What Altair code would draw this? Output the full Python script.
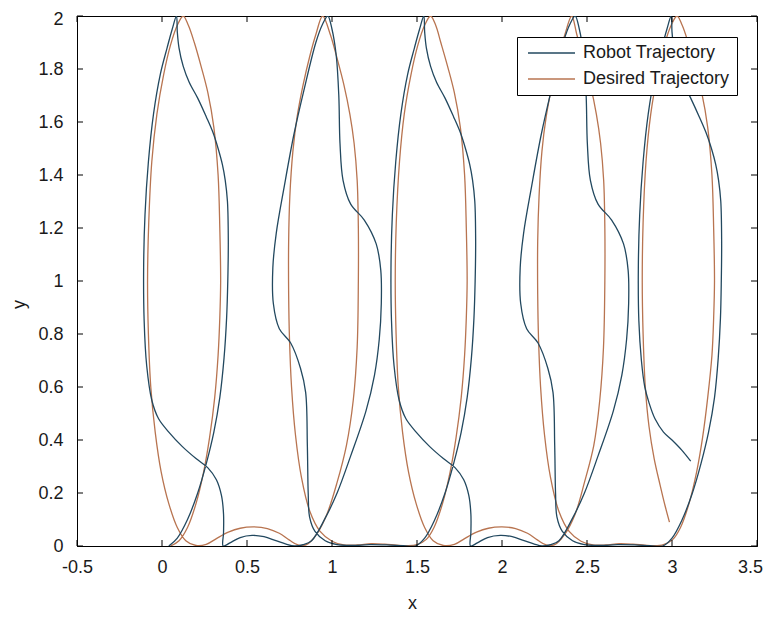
import altair as alt
import pandas as pd

# ---------------- data (x, y) ----------------
desired_loop1 = [(0.05, 0.0), (0.10, 0.02), (0.15, 0.07), (0.20, 0.16), (0.245, 0.28), (0.28, 0.41),
                 (0.31, 0.56), (0.33, 0.72), (0.34, 0.86), (0.345, 1.0), (0.34, 1.2), (0.33, 1.4),
                 (0.305, 1.58), (0.27, 1.71), (0.23, 1.81), (0.19, 1.9), (0.155, 1.965), (0.125, 2.0),
                 (0.09, 1.965), (0.05, 1.89), (0.01, 1.78), (-0.03, 1.63), (-0.06, 1.45), (-0.078, 1.22),
                 (-0.085, 1.0), (-0.08, 0.8), (-0.066, 0.6), (-0.04, 0.43), (-0.005, 0.28), (0.04, 0.16),
                 (0.09, 0.07), (0.14, 0.02), (0.20, 0.002)]
desired_bump1 = [(0.26, 0.006), (0.32, 0.028), (0.39, 0.052), (0.46, 0.067), (0.54, 0.072),
                 (0.62, 0.066), (0.69, 0.048), (0.75, 0.022), (0.80, 0.004)]
desired_loop2 = [(0.85, 0.005), (0.91, 0.045), (0.97, 0.12), (1.03, 0.24), (1.085, 0.38), (1.125, 0.55),
                 (1.148, 0.75), (1.155, 1.0), (1.155, 1.2), (1.148, 1.38), (1.13, 1.52), (1.105, 1.63),
                 (1.07, 1.74), (1.03, 1.84), (0.99, 1.93), (0.945, 2.0), (0.905, 1.93), (0.87, 1.85),
                 (0.83, 1.74), (0.795, 1.62), (0.77, 1.49), (0.752, 1.32), (0.745, 1.15), (0.745, 0.95),
                 (0.75, 0.78), (0.762, 0.6), (0.785, 0.42), (0.82, 0.26), (0.87, 0.13), (0.93, 0.055),
                 (1.0, 0.018), (1.07, 0.004)]
desired_flat1 = [(1.15, 0.004), (1.23, 0.009), (1.31, 0.007), (1.38, 0.003), (1.44, 0.001)]
desired_loop3 = [(1.50, 0.005), (1.555, 0.025), (1.60, 0.07), (1.65, 0.16), (1.695, 0.28), (1.73, 0.41),
                 (1.76, 0.56), (1.78, 0.72), (1.79, 0.86), (1.795, 1.0), (1.79, 1.2), (1.78, 1.4),
                 (1.755, 1.58), (1.72, 1.71), (1.68, 1.81), (1.64, 1.9), (1.61, 1.965), (1.58, 2.0),
                 (1.545, 1.965), (1.505, 1.89), (1.465, 1.78), (1.425, 1.63), (1.397, 1.45), (1.378, 1.22),
                 (1.372, 1.0), (1.377, 0.8), (1.39, 0.6), (1.415, 0.43), (1.45, 0.28), (1.495, 0.16),
                 (1.545, 0.07), (1.595, 0.02), (1.655, 0.002)]
desired_bump2 = [(1.72, 0.006), (1.78, 0.028), (1.85, 0.052), (1.92, 0.067), (2.0, 0.072),
                 (2.08, 0.066), (2.15, 0.048), (2.21, 0.022), (2.26, 0.004)]
desired_loop4 = [(2.31, 0.005), (2.37, 0.045), (2.43, 0.12), (2.485, 0.24), (2.54, 0.38), (2.575, 0.55),
                 (2.597, 0.75), (2.605, 1.0), (2.605, 1.2), (2.598, 1.38), (2.58, 1.52), (2.555, 1.63),
                 (2.52, 1.74), (2.48, 1.84), (2.44, 1.93), (2.41, 2.0), (2.37, 1.93), (2.335, 1.85),
                 (2.295, 1.74), (2.26, 1.62), (2.235, 1.49), (2.218, 1.32), (2.21, 1.15), (2.21, 0.95),
                 (2.215, 0.78), (2.227, 0.6), (2.25, 0.42), (2.285, 0.26), (2.335, 0.13), (2.395, 0.055),
                 (2.465, 0.018), (2.535, 0.004)]
desired_flat2 = [(2.61, 0.004), (2.69, 0.009), (2.77, 0.007), (2.84, 0.003), (2.89, 0.001)]
desired_loop5 = [(2.95, 0.005), (3.005, 0.025), (3.05, 0.07), (3.10, 0.16), (3.145, 0.28), (3.18, 0.41),
                 (3.21, 0.56), (3.235, 0.72), (3.245, 0.86), (3.25, 1.0), (3.245, 1.2), (3.235, 1.4),
                 (3.21, 1.58), (3.175, 1.71), (3.135, 1.81), (3.095, 1.9), (3.06, 1.965), (3.03, 2.0),
                 (2.995, 1.965), (2.955, 1.89), (2.915, 1.78), (2.875, 1.63), (2.847, 1.45), (2.83, 1.22),
                 (2.825, 1.0), (2.83, 0.8), (2.843, 0.6), (2.865, 0.45), (2.895, 0.33), (2.93, 0.23),
                 (2.96, 0.15), (2.985, 0.09)]

robot_loop1 = [(0.04, 0.0), (0.09, 0.03), (0.15, 0.1), (0.21, 0.2), (0.26, 0.31), (0.305, 0.43),
               (0.34, 0.56), (0.365, 0.71), (0.38, 0.86), (0.387, 1.0), (0.39, 1.15), (0.385, 1.3),
               (0.372, 1.38), (0.355, 1.44), (0.33, 1.5), (0.30, 1.56), (0.26, 1.62), (0.21, 1.69),
               (0.16, 1.75), (0.125, 1.81), (0.1, 1.88), (0.09, 1.94), (0.085, 2.0), (0.06, 1.95),
               (0.03, 1.88), (-0.01, 1.78), (-0.05, 1.63), (-0.08, 1.45), (-0.1, 1.25), (-0.108, 1.05),
               (-0.105, 0.85), (-0.09, 0.68), (-0.06, 0.55), (-0.02, 0.48), (0.04, 0.43), (0.12, 0.375),
               (0.2, 0.33), (0.27, 0.295), (0.32, 0.25), (0.35, 0.19), (0.362, 0.12), (0.362, 0.05),
               (0.36, 0.0)]
robot_bump1 = [(0.40, 0.012), (0.46, 0.032), (0.53, 0.04), (0.60, 0.035), (0.67, 0.02), (0.73, 0.007),
               (0.78, 0.0)]
robot_loop2 = [(0.83, 0.005), (0.88, 0.02), (0.96, 0.105), (1.03, 0.2), (1.11, 0.34), (1.20, 0.51),
               (1.25, 0.645), (1.278, 0.78), (1.29, 0.915), (1.287, 1.04), (1.26, 1.14), (1.19, 1.23),
               (1.11, 1.29), (1.065, 1.38), (1.047, 1.52), (1.04, 1.7), (1.025, 1.85), (1.0, 1.95),
               (0.975, 2.0), (0.945, 1.97), (0.905, 1.9), (0.835, 1.72), (0.775, 1.55), (0.72, 1.36),
               (0.672, 1.18), (0.652, 1.05), (0.655, 0.915), (0.69, 0.82), (0.757, 0.766), (0.815, 0.67),
               (0.845, 0.58), (0.855, 0.38), (0.86, 0.2), (0.868, 0.11), (0.9, 0.055), (0.96, 0.02),
               (1.03, 0.005)]
robot_flat1 = [(1.12, 0.002), (1.22, 0.005), (1.32, 0.004), (1.42, 0.001)]
robot_loop3 = [(1.49, 0.0), (1.545, 0.03), (1.605, 0.1), (1.665, 0.2), (1.715, 0.31), (1.76, 0.43),
               (1.795, 0.56), (1.82, 0.71), (1.835, 0.86), (1.842, 1.0), (1.845, 1.15), (1.84, 1.3),
               (1.827, 1.38), (1.81, 1.44), (1.785, 1.5), (1.755, 1.56), (1.715, 1.62), (1.665, 1.69),
               (1.615, 1.75), (1.58, 1.81), (1.555, 1.88), (1.545, 1.94), (1.54, 2.0), (1.515, 1.95),
               (1.485, 1.88), (1.445, 1.78), (1.405, 1.63), (1.375, 1.45), (1.355, 1.25), (1.347, 1.05),
               (1.35, 0.85), (1.365, 0.68), (1.395, 0.55), (1.435, 0.48), (1.495, 0.43), (1.575, 0.375),
               (1.655, 0.33), (1.725, 0.295), (1.775, 0.25), (1.805, 0.19), (1.817, 0.12), (1.817, 0.05),
               (1.815, 0.0)]
robot_bump2 = [(1.855, 0.012), (1.915, 0.032), (1.99, 0.04), (2.06, 0.035), (2.13, 0.02), (2.19, 0.007),
               (2.235, 0.0)]
robot_loop4 = [(2.285, 0.005), (2.335, 0.02), (2.415, 0.105), (2.485, 0.2), (2.565, 0.34), (2.655, 0.51),
               (2.705, 0.645), (2.733, 0.78), (2.745, 0.915), (2.742, 1.04), (2.715, 1.14), (2.645, 1.23),
               (2.565, 1.29), (2.52, 1.38), (2.502, 1.52), (2.495, 1.7), (2.48, 1.85), (2.455, 1.95),
               (2.43, 2.0), (2.40, 1.97), (2.36, 1.9), (2.29, 1.72), (2.23, 1.55), (2.175, 1.36),
               (2.127, 1.18), (2.107, 1.05), (2.11, 0.915), (2.145, 0.82), (2.212, 0.766), (2.27, 0.67),
               (2.30, 0.58), (2.31, 0.38), (2.315, 0.2), (2.323, 0.11), (2.355, 0.055), (2.415, 0.02),
               (2.485, 0.005)]
robot_flat2 = [(2.58, 0.002), (2.68, 0.005), (2.78, 0.004), (2.87, 0.001)]
robot_loop5 = [(2.945, 0.0), (3.0, 0.03), (3.06, 0.1), (3.12, 0.2), (3.17, 0.31), (3.215, 0.43),
               (3.25, 0.56), (3.272, 0.71), (3.285, 0.86), (3.29, 1.0), (3.292, 1.15), (3.287, 1.3),
               (3.274, 1.38), (3.257, 1.44), (3.232, 1.5), (3.2, 1.56), (3.16, 1.62), (3.11, 1.69),
               (3.065, 1.75), (3.032, 1.81), (3.01, 1.88), (3.0, 1.94), (2.995, 2.0), (2.97, 1.95),
               (2.94, 1.88), (2.9, 1.78), (2.86, 1.63), (2.83, 1.45), (2.81, 1.25), (2.802, 1.05),
               (2.805, 0.85), (2.82, 0.7), (2.84, 0.6), (2.865, 0.54), (2.90, 0.48), (2.95, 0.43),
               (3.0, 0.4), (3.06, 0.36), (3.11, 0.32)]

x_ticks = [-0.5, 0, 0.5, 1, 1.5, 2, 2.5, 3, 3.5]
y_ticks = [0, 0.2, 0.4, 0.6, 0.8, 1, 1.2, 1.4, 1.6, 1.8, 2]
series_names = ["Robot Trajectory", "Desired Trajectory"]
series_colors = ["#22485f", "#b87450"]

# ---------------- build tables ----------------
desired_pts = (desired_loop1 + desired_bump1 + desired_loop2 + desired_flat1 + desired_loop3
               + desired_bump2 + desired_loop4 + desired_flat2 + desired_loop5)
robot_pts = (robot_loop1 + robot_bump1 + robot_loop2 + robot_flat1 + robot_loop3
             + robot_bump2 + robot_loop4 + robot_flat2 + robot_loop5)


def table(points, name):
    return pd.DataFrame({"x": [p[0] for p in points], "y": [p[1] for p in points],
                         "i": list(range(len(points))), "s": name})


df_des = table(desired_pts, series_names[1])
df_rob = table(robot_pts, series_names[0])

W, H = 680, 530
FONT = "Liberation Sans"
TXT = "#1a1a1a"

xscale = alt.Scale(domain=[-0.5, 3.5], nice=False, zero=False)
yscale = alt.Scale(domain=[0, 2], nice=False, zero=False)

xaxis = alt.Axis(values=x_ticks, labelExpr="'' + datum.value", ticks=False, grid=False, title="x",
                 labelFontSize=18, titleFontSize=18, labelPadding=12, labelFont=FONT, titleFont=FONT,
                 labelColor=TXT, titleColor=TXT, titleFontWeight="normal", titleX=335, titleY=57,
                 titleBaseline="middle", domainColor="black", labelFlush=False,
                 labelOffset={"condition": {"test": "datum.value == 3.5", "value": -7}, "value": 0})
yaxis = alt.Axis(values=y_ticks, labelExpr="'' + datum.value", ticks=False, grid=False, title="y",
                 labelFontSize=18, titleFontSize=18, labelPadding=14, labelFont=FONT, titleFont=FONT,
                 labelColor=TXT, titleColor=TXT, titleFontWeight="normal", titleX=-58, titleY=288,
                 titleBaseline="middle", titleAngle=-90, domainColor="black", labelFlush=False,
                 labelOffset={"condition": {"test": "datum.value == 2", "value": 3}, "value": 0})

legend = alt.Legend(title=None, orient="none", legendX=440, legendY=21, symbolType="M-1,0H8.4",
                    symbolSize=100, symbolStrokeWidth=1.5, labelFontSize=18, labelFont=FONT,
                    labelColor=TXT, labelOffset=41, padding=7, rowPadding=8, strokeColor="black",
                    fillColor="white", cornerRadius=0)
color = alt.Color("s:N", scale=alt.Scale(domain=series_names, range=series_colors), legend=legend)


def line_layer(df):
    return alt.Chart(df).mark_line(strokeWidth=1.3, clip=True, interpolate="catmull-rom").encode(
        x=alt.X("x:Q", scale=xscale, axis=xaxis),
        y=alt.Y("y:Q", scale=yscale, axis=yaxis),
        order=alt.Order("i:Q"),
        color=color,
    )


desired_line = line_layer(df_des)
robot_line = line_layer(df_rob)

tx = pd.DataFrame({"x": x_ticks})
ty = pd.DataFrame({"y": y_ticks})
TL = 6
bottom_ticks = alt.Chart(tx).mark_rule(color="black", strokeWidth=1).encode(
    x=alt.X("x:Q", scale=xscale, axis=xaxis), y=alt.value(H), y2=alt.value(H - TL))
top_ticks = alt.Chart(tx).mark_rule(color="black", strokeWidth=1).encode(
    x=alt.X("x:Q", scale=xscale, axis=xaxis), y=alt.value(0), y2=alt.value(TL))
left_ticks = alt.Chart(ty).mark_rule(color="black", strokeWidth=1).encode(
    y=alt.Y("y:Q", scale=yscale, axis=yaxis), x=alt.value(0), x2=alt.value(TL))
right_ticks = alt.Chart(ty).mark_rule(color="black", strokeWidth=1).encode(
    y=alt.Y("y:Q", scale=yscale, axis=yaxis), x=alt.value(W), x2=alt.value(W - TL))

chart = alt.layer(desired_line, robot_line, bottom_ticks, top_ticks, left_ticks, right_ticks).properties(
    width=W, height=H,
    autosize=alt.AutoSizeParams(type="none"),
    padding={"left": 69, "top": 8, "right": 8, "bottom": 67},
    background="white",
).configure_view(stroke="black", strokeWidth=1).configure_axis(domainWidth=1)

chart.save("out.html", embed_options={"renderer": "svg", "actions": False})
